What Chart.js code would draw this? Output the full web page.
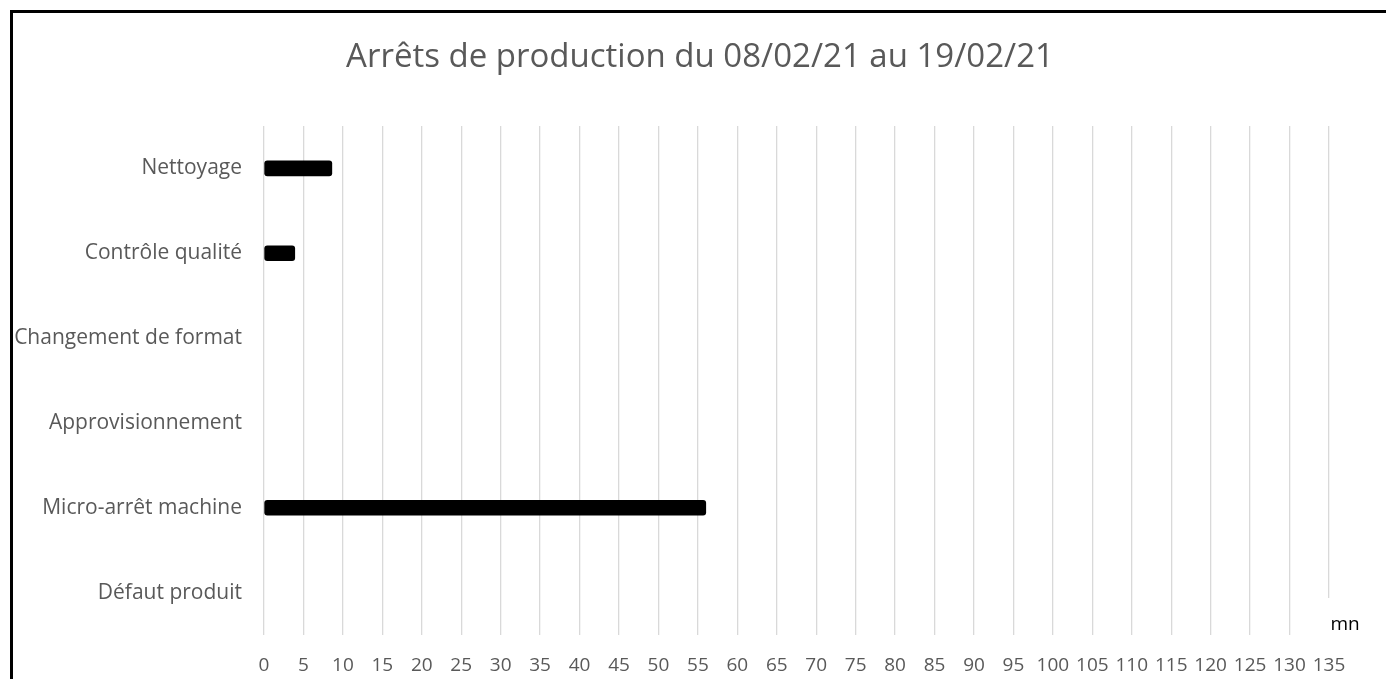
<!DOCTYPE html>
<html lang="fr">
<head>
<meta charset="utf-8">
<title>Arrêts de production</title>
<script src="https://cdn.jsdelivr.net/npm/chart.js@4.4.1/dist/chart.umd.min.js"></script>
<style>
    html, body { margin: 0; padding: 0; background: #fff; overflow: hidden; }
    #wrap { position: absolute; left: 0; top: 0; width: 1386px; height: 679px; }
</style>
</head>
<body>
<div id="wrap"><canvas id="arretsChart"></canvas></div>
<script>
// Causes d'arrêt, de haut en bas
const causes = [
    'Nettoyage',
    'Contrôle qualité',
    'Changement de format',
    'Approvisionnement',
    'Micro-arrêt machine',
    'Défaut produit'
];
// Durée cumulée en minutes
const minutes = [8.6, 3.9, 0, 0, 56, 0];
const xMax = 135;
const xStep = 5;
const titre = 'Arrêts de production du 08/02/21 au 19/02/21';
const unite = 'mn';

const grisTexte = '#595959';
const police = "'Open Sans', sans-serif";

// Cadre noir, titre et unité de l'axe
const habillage = {
    id: 'habillage',
    afterDraw(chart) {
        const ctx = chart.ctx;
        const area = chart.chartArea;
        ctx.save();
        ctx.fillStyle = '#000';
        ctx.fillRect(10, 10, chart.width - 10, 3);
        ctx.fillRect(10, 10, 3, chart.height - 10);

        ctx.fillStyle = grisTexte;
        ctx.font = '400 33px ' + police;
        ctx.textAlign = 'center';
        ctx.textBaseline = 'middle';
        ctx.fillText(titre, 700, 58);

        // zone de texte de l'unité (fond blanc par-dessus la grille)
        ctx.fillStyle = '#fff';
        ctx.fillRect(area.right - 20, 598, 70, area.bottom - 598 + 2);
        ctx.fillStyle = '#000';
        ctx.font = '400 19px ' + police;
        ctx.textAlign = 'center';
        ctx.textBaseline = 'alphabetic';
        ctx.fillText(unite, 1345, 630);
        ctx.restore();
    }
};

new Chart(document.getElementById('arretsChart'), {
    type: 'bar',
    data: {
        labels: causes,
        datasets: [{
            label: 'Durée (mn)',
            data: minutes,
            // pas de trait pour les durées nulles
            backgroundColor: (c) => (c.raw ? '#000' : 'rgba(0,0,0,0)'),
            borderWidth: 0,
            borderRadius: 3,
            borderSkipped: false,
            barThickness: 15
        }]
    },
    options: {
        indexAxis: 'y',
        responsive: true,
        maintainAspectRatio: false,
        animation: false,
        layout: { padding: { left: 14, right: 57, top: 126, bottom: 0 } },
        scales: {
            x: {
                min: 0,
                max: xMax,
                ticks: {
                    stepSize: xStep,
                    color: grisTexte,
                    font: { family: police, size: 19 },
                    padding: 19,
                    maxRotation: 0,
                    autoSkip: false
                },
                grid: { color: '#d9d9d9', lineWidth: 1.3, drawTicks: false },
                border: { display: false },
                afterFit(scale) { scale.height = 44; }
            },
            y: {
                ticks: {
                    color: grisTexte,
                    font: { family: police, size: 21 },
                    padding: 22
                },
                grid: { display: false, drawTicks: false },
                border: { display: false },
                afterFit(scale) { scale.width = 250; }
            }
        },
        plugins: {
            legend: { display: false },
            title: { display: false },
            tooltip: { enabled: false }
        }
    },
    plugins: [habillage]
});
</script>
</body>
</html>
